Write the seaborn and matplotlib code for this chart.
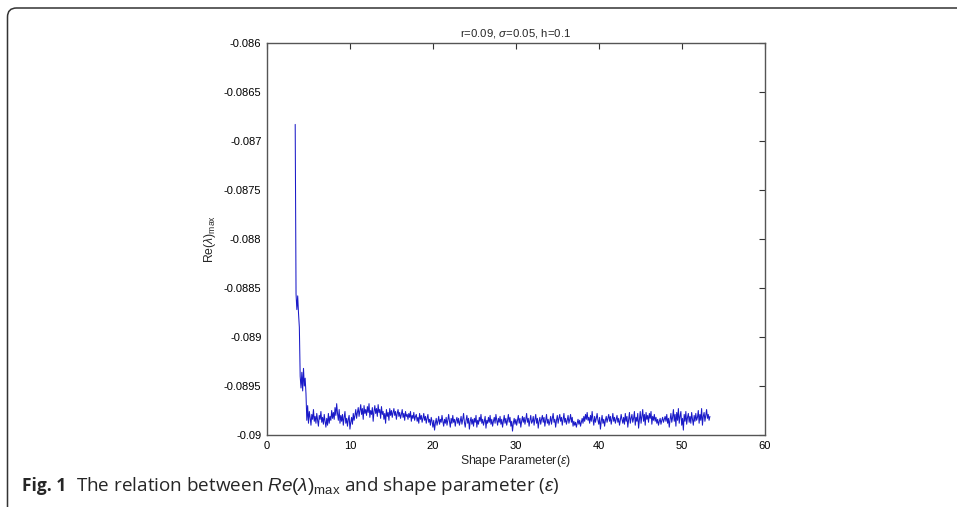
import numpy as np
import pandas as pd
import seaborn as sns
import matplotlib.pyplot as plt
from matplotlib.patches import FancyBboxPatch
from matplotlib.transforms import IdentityTransform

# shape parameter grid 3.4 .. 53.4 (step 0.1)
shape_param = np.round(np.arange(3.4, 53.45, 0.1), 1)

# Re(lambda)_max
re_max = [
    -0.08683, -0.08856, -0.08872, -0.08858, -0.08876, -0.08890, -0.08940, -0.08952, -0.08936, -0.08955,
    -0.08932, -0.08950, -0.08942, -0.08958, -0.08985, -0.08970,
    -0.08988, -0.08976, -0.08982, -0.08990, -0.08979, -0.08984, -0.08974, -0.08986, -0.08981, -0.08988,
    -0.08978, -0.08985, -0.08991, -0.08980, -0.08984, -0.08976, -0.08987, -0.08982, -0.08989, -0.08979,
    -0.08986, -0.08992, -0.08983, -0.08990, -0.08978, -0.08988, -0.08981, -0.08985, -0.08975, -0.08983,
    -0.08977, -0.08984, -0.08972, -0.08980, -0.08968, -0.08978, -0.08985, -0.08974, -0.08988, -0.08980,
    -0.08986, -0.08979, -0.08990, -0.08982, -0.08976, -0.08988, -0.08983, -0.08991, -0.08984, -0.08980,
    -0.08994, -0.08987, -0.08982, -0.08989, -0.08978, -0.08985, -0.08980, -0.08974, -0.08983, -0.08977,
    -0.08972, -0.08981, -0.08975, -0.08969, -0.08979, -0.08973, -0.08984, -0.08970, -0.08978, -0.08974,
    -0.08980, -0.08971, -0.08977, -0.08968, -0.08982, -0.08975, -0.08979, -0.08972, -0.08986, -0.08976,
    -0.08970, -0.08978, -0.08973, -0.08981, -0.08969, -0.08977, -0.08974, -0.08983, -0.08971, -0.08979,
    -0.08976, -0.08984, -0.08978, -0.08988, -0.08974, -0.08981, -0.08977, -0.08985, -0.08973, -0.08980,
    -0.08975, -0.08982, -0.08977, -0.08973, -0.08980, -0.08976, -0.08984, -0.08978, -0.08974, -0.08981,
    -0.08977, -0.08983, -0.08979, -0.08974, -0.08982, -0.08978, -0.08985, -0.08976, -0.08981, -0.08979,
    -0.08984, -0.08978, -0.08982, -0.08976, -0.08986, -0.08980, -0.08983, -0.08977, -0.08985, -0.08981,
    -0.08979, -0.08986, -0.08982, -0.08988, -0.08978, -0.08984, -0.08980, -0.08987, -0.08983, -0.08978,
    -0.08985, -0.08981, -0.08988, -0.08983, -0.08979, -0.08987, -0.08984, -0.08990, -0.08982, -0.08986,
    -0.08992, -0.08985, -0.08995, -0.08988, -0.08983, -0.08990, -0.08986, -0.08981, -0.08989, -0.08984,
    -0.08987, -0.08980, -0.08986, -0.08991, -0.08984, -0.08988, -0.08982, -0.08990, -0.08985, -0.08979,
    -0.08986, -0.08992, -0.08983, -0.08988, -0.08980, -0.08987, -0.08984, -0.08991, -0.08985, -0.08982,
    -0.08988, -0.08983, -0.08990, -0.08986, -0.08981, -0.08989, -0.08984, -0.08978, -0.08987, -0.08992,
    -0.08985, -0.08980, -0.08988, -0.08983, -0.08994, -0.08986, -0.08982, -0.08989, -0.08984, -0.08991,
    -0.08983, -0.08987, -0.08980, -0.08992, -0.08985, -0.08989, -0.08982, -0.08986, -0.08979, -0.08988,
    -0.08984, -0.08990, -0.08986, -0.08981, -0.08993, -0.08985, -0.08988, -0.08982, -0.08987, -0.08980,
    -0.08989, -0.08984, -0.08991, -0.08986, -0.08982, -0.08988, -0.08979, -0.08985, -0.08990, -0.08983,
    -0.08987, -0.08981, -0.08989, -0.08984, -0.08992, -0.08986, -0.08980, -0.08988, -0.08983, -0.08990,
    -0.08985, -0.08979, -0.08987, -0.08982, -0.08991, -0.08986, -0.08996, -0.08988, -0.08983, -0.08989,
    -0.08984, -0.08990, -0.08985, -0.08980, -0.08988, -0.08983, -0.08992, -0.08986, -0.08981, -0.08987,
    -0.08982, -0.08989, -0.08984, -0.08978, -0.08987, -0.08983, -0.08991, -0.08985, -0.08980, -0.08988,
    -0.08986, -0.08981, -0.08990, -0.08984, -0.08979, -0.08988, -0.08983, -0.08993, -0.08986, -0.08982,
    -0.08989, -0.08984, -0.08980, -0.08987, -0.08982, -0.08991, -0.08985, -0.08979, -0.08988, -0.08984,
    -0.08990, -0.08986, -0.08981, -0.08989, -0.08983, -0.08978, -0.08987, -0.08984, -0.08992, -0.08985,
    -0.08980, -0.08988, -0.08983, -0.08979, -0.08986, -0.08982, -0.08990, -0.08984, -0.08978, -0.08987,
    -0.08983, -0.08989, -0.08985, -0.08980, -0.08988, -0.08984, -0.08979, -0.08987, -0.08982, -0.08991,
    -0.08986, -0.08990, -0.08987, -0.08992, -0.08988, -0.08984, -0.08989, -0.08985, -0.08991, -0.08987,
    -0.08983, -0.08988, -0.08981, -0.08986, -0.08979, -0.08984, -0.08977, -0.08985, -0.08982, -0.08988,
    -0.08980, -0.08986, -0.08976, -0.08984, -0.08990, -0.08981, -0.08987, -0.08983, -0.08978, -0.08985,
    -0.08989, -0.08982, -0.08994, -0.08986, -0.08980, -0.08988, -0.08984, -0.08991, -0.08985, -0.08981,
    -0.08987, -0.08983, -0.08979, -0.08986, -0.08981, -0.08989, -0.08984, -0.08978, -0.08986, -0.08982,
    -0.08988, -0.08984, -0.08980, -0.08987, -0.08983, -0.08990, -0.08985, -0.08979, -0.08984, -0.08988,
    -0.08982, -0.08989, -0.08978, -0.08986, -0.08981, -0.08992, -0.08984, -0.08977, -0.08988, -0.08983,
    -0.08979, -0.08987, -0.08983, -0.08976, -0.08990, -0.08982, -0.08986, -0.08978, -0.08993, -0.08984,
    -0.08976, -0.08988, -0.08981, -0.08974, -0.08986, -0.08979, -0.08990, -0.08977, -0.08984, -0.08980,
    -0.08987, -0.08978, -0.08983, -0.08976, -0.08989, -0.08981, -0.08985, -0.08979, -0.08986, -0.08982,
    -0.08988, -0.08984, -0.08990, -0.08986, -0.08983, -0.08989, -0.08985, -0.08982, -0.08987, -0.08984,
    -0.08981, -0.08986, -0.08979, -0.08988, -0.08983, -0.08992, -0.08984, -0.08978, -0.08987, -0.08982,
    -0.08974, -0.08986, -0.08979, -0.08991, -0.08977, -0.08985, -0.08973, -0.08988, -0.08981, -0.08976,
    -0.08990, -0.08983, -0.08995, -0.08979, -0.08986, -0.08976, -0.08989, -0.08982, -0.08978, -0.08987,
    -0.08981, -0.08988, -0.08977, -0.08984, -0.08990, -0.08980, -0.08986, -0.08978, -0.08985, -0.08982,
    -0.08975, -0.08988, -0.08979, -0.08985, -0.08973, -0.08990, -0.08981, -0.08977, -0.08986, -0.08980,
    -0.08974, -0.08983, -0.08979, -0.08985, -0.08981,
]

x_ticks = [0, 10, 20, 30, 40, 50, 60]
y_ticks = [-0.09, -0.0895, -0.089, -0.0885, -0.088, -0.0875, -0.087, -0.0865, -0.086]
y_tick_labels = ['-0.09', '-0.0895', '-0.089', '-0.0885', '-0.088', '-0.0875', '-0.087', '-0.0865', '-0.086']

df = pd.DataFrame({'eps': shape_param, 're': re_max})

sns.set_style("white")
plt.rcParams['font.family'] = ['Liberation Sans', 'DejaVu Sans']
plt.rcParams['mathtext.fontset'] = 'custom'
plt.rcParams['mathtext.rm'] = 'Liberation Sans'
plt.rcParams['mathtext.it'] = 'Liberation Sans:italic'
plt.rcParams['mathtext.bf'] = 'Liberation Sans:bold'

fig = plt.figure(figsize=(9.57, 5.07), dpi=100)
ax = fig.add_axes([0.279, 0.142, 0.520, 0.773])

sns.lineplot(data=df, x='eps', y='re', ax=ax, color='#1a1ac8', linewidth=0.75,
             estimator=None, sort=False)

ax.set_xlim(0, 60)
ax.set_ylim(-0.09, -0.086)
ax.set_xticks(x_ticks)
ax.set_xticklabels([str(t) for t in x_ticks])
ax.set_yticks(y_ticks)
ax.set_yticklabels(y_tick_labels)
ax.tick_params(direction='in', length=4, width=0.8, labelsize=8, colors='#333333',
               top=True, right=True, pad=4)
ax.tick_params(labelcolor='black')
for s in ax.spines.values():
    s.set_color('#555555')
    s.set_linewidth(1.0)

ax.set_title(r'r=0.09, $\sigma$=0.05, h=0.1', fontsize=8.2, pad=5)
ax.set_xlabel(r'Shape Parameter($\varepsilon$)', fontsize=8.8, labelpad=2)
ax.set_ylabel(r'Re($\lambda$)$_{\rm max}$', fontsize=8.8, labelpad=4)

# page frame with a rounded top-left corner (pixel coordinates)
frame = FancyBboxPatch((7.5, -40), 1000, 539, boxstyle="round,pad=0,rounding_size=9",
                       transform=IdentityTransform(), facecolor='none',
                       edgecolor='#333333', linewidth=1.1, clip_on=False)
fig.add_artist(frame)

cap_fonts = ['Open Sans', 'DejaVu Sans']
fig.text(22 / 957, 1 - 491 / 507, 'Fig. 1', fontsize=12.5, fontweight='bold',
         family=cap_fonts, va='baseline')
fig.text(76 / 957, 1 - 491 / 507,
         r'The relation between $\mathit{Re}(\lambda)_{\mathrm{max}}$ and shape parameter ($\epsilon$)',
         fontsize=13.6, family=cap_fonts, va='baseline')

fig.savefig('out.png', dpi=100)
